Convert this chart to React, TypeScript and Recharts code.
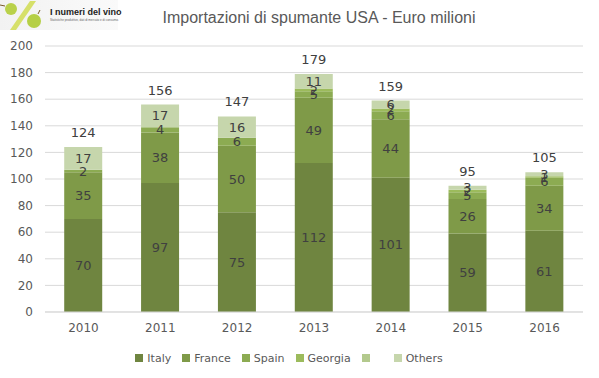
import React from "react";
import { BarChart, Bar, XAxis, YAxis, CartesianGrid, Legend, LabelList } from "recharts";

const years = ["2010", "2011", "2012", "2013", "2014", "2015", "2016"];
const italy = [70, 97, 75, 112, 101, 59, 61];
const france = [35, 38, 50, 49, 44, 26, 34];
const spain = [2, 4, 6, 5, 6, 5, 6];
const georgia = [0, 0, 0, 2, 2, 2, 1];
const others = [17, 17, 16, 11, 6, 3, 3];
const totals = [124, 156, 147, 179, 159, 95, 105];
const yTicks = [0, 20, 40, 60, 80, 100, 120, 140, 160, 180, 200];

const data = years.map((y, i) => ({
  year: y,
  Italy: italy[i],
  France: france[i],
  Spain: spain[i],
  Georgia: georgia[i],
  Blank: 0,
  Others: others[i],
  total: totals[i],
}));

const series = [
  { key: "Italy", name: "Italy", color: "#6f8540" },
  { key: "France", name: "France", color: "#7f9a48" },
  { key: "Spain", name: "Spain", color: "#8cab52" },
  { key: "Georgia", name: "Georgia", color: "#9cbb5c" },
  { key: "Blank", name: "", color: "#b3c98d" },
  { key: "Others", name: "Others", color: "#c6d6ac" },
];

const font = "'DejaVu Sans', Verdana, sans-serif";

const Logo = () => (
  <svg width={140} height={34} style={{ position: "absolute", left: 0, top: 0 }}>
    <defs>
      <linearGradient id="lg" x1="0" y1="0" x2="1" y2="0">
        <stop offset="0" stopColor="#f2f2f2" />
        <stop offset="1" stopColor="#fafafa" />
      </linearGradient>
    </defs>
    <rect x={0} y={0} width={118} height={30} fill="url(#lg)" />
    <polygon points="30,1 36,1 16,30 10,30" fill="#d6e06a" />
    <circle cx={11} cy={9} r={6} fill="#b9d14a" />
    <circle cx={34} cy={21} r={7} fill="#b5cf45" />
    <line x1={5} y1={6} x2={0} y2={5} stroke="#7a5a2a" strokeWidth={1} />
    <line x1={38} y1={14} x2={40} y2={10} stroke="#7a5a2a" strokeWidth={1} />
    <text x={50} y={15} fontSize={9} fontWeight="bold" fill="#222" fontFamily="'Liberation Sans Narrow', 'Liberation Sans', Arial, sans-serif">
      I numeri del vino
    </text>
    <text x={50} y={21} fontSize={3} fill="#666" fontFamily="'Liberation Sans', Arial, sans-serif">
      Statistiche produttive, dati di mercato e di consumo.
    </text>
  </svg>
);

const LegendContent = () => (
  <div style={{ display: "flex", justifyContent: "center", alignItems: "center", height: 28, marginLeft: 6 }}>
    {series.map((s) => (
      <div key={s.key} style={{ display: "flex", alignItems: "center", marginRight: s.name ? 11 : 20 }}>
        <span style={{ display: "inline-block", width: 8, height: 8, background: s.color, marginRight: 4 }} />
        <span style={{ color: "#595959", fontSize: 11, fontFamily: font }}>{s.name}</span>
      </div>
    ))}
  </div>
);

export default function App() {
  return (
    <div style={{ position: "relative", width: 599, height: 378, background: "#fff" }}>
      <style>{"body{margin:0;}"}</style>
      <Logo />
      <div
        style={{
          position: "absolute",
          top: 9,
          left: 0,
          width: 638,
          textAlign: "center",
          fontFamily: "'Liberation Sans', Arial, sans-serif",
          fontSize: 16,
          color: "#595959",
        }}
      >
        Importazioni di spumante USA - Euro milioni
      </div>
      <BarChart
        width={599}
        height={378}
        data={data}
        margin={{ top: 46, right: 16, left: 0, bottom: 4 }}
        barCategoryGap="25%"
        style={{ position: "absolute", top: 0, left: 0 }}
      >
        <CartesianGrid vertical={false} stroke="#d9d9d9" />
        <XAxis
          dataKey="year"
          height={32}
          tickLine={false}
          axisLine={{ stroke: "#d9d9d9" }}
          tick={{ fill: "#595959", fontSize: 12, fontFamily: font }}
          tickMargin={5}
        />
        <YAxis
          width={45}
          domain={[0, 200]}
          ticks={yTicks}
          interval={0}
          axisLine={false}
          tickLine={false}
          tick={{ fill: "#595959", fontSize: 12, fontFamily: font }}
          tickMargin={6}
        />
        <Legend verticalAlign="bottom" height={30} content={<LegendContent />} />
        {series.map((s) => (
          <Bar key={s.key} dataKey={s.key} name={s.name} stackId="a" fill={s.color} isAnimationActive={false}>
            {s.key !== "Blank" && (
              <LabelList
                dataKey={s.key}
                position="center"
                fill="#404040"
                fontSize={13}
                fontFamily={font}
              />
            )}
            {s.key === "Others" && (
              <LabelList
                dataKey="total"
                position="top"
                offset={10}
                fill="#404040"
                fontSize={13}
                fontFamily={font}
              />
            )}
          </Bar>
        ))}
      </BarChart>
    </div>
  );
}
